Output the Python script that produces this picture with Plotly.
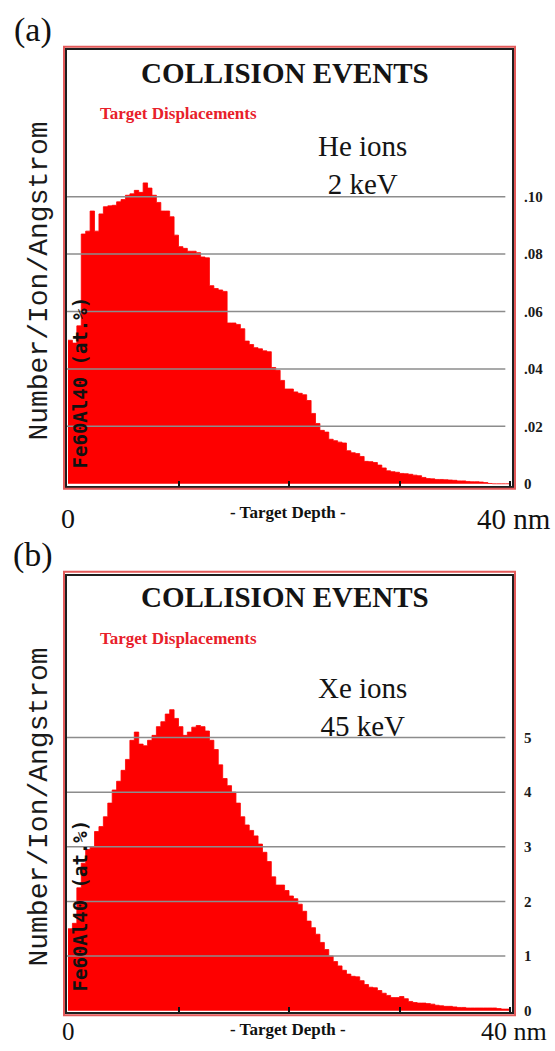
import plotly.graph_objects as go

W, H = 555, 1051

# ---------------- data ----------------
# depth bins (SRIM: 100 bins of 4 Angstrom over 0-40 nm), bin centres in nm
bin_width_nm = 0.4
depth_nm = [round(0.2 + bin_width_nm * i, 2) for i in range(100)]

# (a) He ions, 2 keV : target displacements (Number/Ion/Angstrom)
he_values = [
    0.050, 0.049, 0.055, 0.087, 0.088, 0.095, 0.088, 0.094, 0.0965, 0.0968,
    0.097, 0.0982, 0.099, 0.1005, 0.101, 0.1022, 0.1015, 0.1048, 0.103, 0.1005,
    0.098, 0.095, 0.095, 0.093, 0.0866, 0.0826, 0.082, 0.081, 0.081, 0.0805,
    0.079, 0.0787, 0.069, 0.068, 0.0675, 0.067, 0.056, 0.056, 0.0555, 0.054,
    0.0497, 0.0485, 0.0474, 0.047, 0.0463, 0.046, 0.0405, 0.0395, 0.036, 0.033,
    0.033, 0.032, 0.0315, 0.031, 0.029, 0.0245, 0.021, 0.0186, 0.018, 0.0155,
    0.015, 0.0145, 0.0142, 0.0115, 0.0108, 0.0105, 0.0095, 0.0078, 0.0077, 0.0074,
    0.0065, 0.0055, 0.0045, 0.0042, 0.004, 0.0036, 0.0035, 0.0033, 0.003, 0.0028,
    0.0022, 0.0018, 0.0017, 0.0015, 0.0015, 0.0014, 0.0013, 0.0012, 0.001, 0.001,
    0.0008, 0.0007, 0.0007, 0.0006, 0.0004, 0.0001, 0.0, 0.0, 0.0, 0.0,
]

# (b) Xe ions, 45 keV
xe_values = [
    1.50, 1.60, 2.25, 2.70, 2.95, 3.00, 3.28, 3.37, 3.55, 3.80,
    4.04, 4.20, 4.40, 4.60, 4.95, 5.10, 4.88, 4.85, 4.95, 5.04,
    5.20, 5.29, 5.43, 5.51, 5.35, 5.20, 5.04, 5.10, 5.19, 5.22,
    5.20, 5.12, 4.95, 4.78, 4.50, 4.25, 4.12, 4.00, 3.80, 3.55,
    3.40, 3.30, 3.20, 3.05, 2.90, 2.73, 2.45, 2.30, 2.30, 2.20,
    2.10, 2.05, 1.95, 1.82, 1.64, 1.52, 1.40, 1.25, 1.12, 1.00,
    0.90, 0.82, 0.74, 0.67, 0.63, 0.62, 0.55, 0.48, 0.43, 0.42,
    0.37, 0.32, 0.28, 0.24, 0.24, 0.26, 0.22, 0.17, 0.15, 0.14,
    0.14, 0.13, 0.12, 0.10, 0.09, 0.08, 0.08, 0.07, 0.06, 0.06,
    0.05, 0.05, 0.05, 0.05, 0.05, 0.05, 0.05, 0.04, 0.03, 0.03,
]

he_ticks = [0, 0.02, 0.04, 0.06, 0.08, 0.10]
he_ticktext = ["0", ".02", ".04", ".06", ".08", ".10"]
xe_ticks = [0, 1, 2, 3, 4, 5]
xe_ticktext = ["0", "1", "2", "3", "4", "5"]
depth_ticks = [0, 10, 20, 30, 40]

panel_labels = ["(a)", "(b)"]
ion_labels = ["He ions<br>2 keV", "Xe ions<br>45 keV"]
title_text = "COLLISION EVENTS"
subtitle_text = "Target Displacements"
ylabel_text = "Number/Ion/Angstrom"
target_text = "Fe60Al40 (at.%)"
xlabel_text = "- Target Depth -"

# ---------------- styling / layout ----------------
RED = "#fe0000"
FRAME_RED = "#e35a5a"
SERIF = "Liberation Serif, Times New Roman, serif"
MONO = "Liberation Mono, Courier New, monospace"
SANSMONO = "DejaVu Sans Mono, monospace"

def px(p):
    return p / W

def py(p):
    return 1 - p / H

# pixel geometry of the two panels
X_LEFT, X_RIGHT = 67, 512          # inner black frame
X0_PX, X40_PX = 68, 510            # 0 nm and 40 nm positions
nm_per_px = 40 / (X40_PX - X0_PX)
x_range = [(X_LEFT - X0_PX) * nm_per_px, (X_RIGHT - X0_PX) * nm_per_px]

# step-histogram outline: left edge of every bin + right edge of the last one
half = bin_width_nm / 2
step_x = [d - half for d in depth_nm] + [depth_nm[-1] + half]

panels = [
    dict(top=50.5, bottom=489, zero=487.0, unit_px=57.8, unit=0.02, off=0.0,
         ticks=he_ticks, ticktext=he_ticktext, values=he_values,
         red_top=47, red_bot=492, ion_y=166, ylab_y=283.5, tgt_y=385,
         bottom_lbl_y=522, bottom_lbl_size=28, depth_lbl_y=516, label_y=30),
    dict(top=579.5, bottom=1019, zero=1017.5, unit_px=55.0, unit=1.0, off=528.5,
         ticks=xe_ticks, ticktext=xe_ticktext, values=xe_values,
         red_top=575.5, red_bot=1022, ion_y=712, ylab_y=813, tgt_y=911.5,
         bottom_lbl_y=1038.5, bottom_lbl_size=25, depth_lbl_y=1036, label_y=559),
]

fig = go.Figure()
layout = dict(
    width=W, height=H,
    margin=dict(l=0, r=0, t=0, b=0),
    paper_bgcolor="white", plot_bgcolor="white",
    showlegend=False,
    shapes=[], annotations=[],
)

for i, p in enumerate(panels):
    sfx = "" if i == 0 else str(i + 1)
    xa, ya = "x" + sfx, "y" + sfx
    vals = p["values"]
    fig.add_trace(go.Scatter(
        x=step_x, y=vals + [vals[-1]],
        mode="lines", line=dict(color=RED, width=0.8, shape="hv"),
        fill="tozeroy", fillcolor=RED,
        xaxis=xa, yaxis=ya, hoverinfo="skip",
    ))
    y_lo = (p["zero"] - p["bottom"]) / p["unit_px"] * p["unit"]
    y_hi = (p["zero"] - p["top"]) / p["unit_px"] * p["unit"]
    layout["xaxis" + sfx] = dict(
        domain=[px(X_LEFT), px(X_RIGHT)], range=x_range, anchor=ya,
        showgrid=False, zeroline=False, showline=True, mirror=True,
        linecolor="#1e1e1e", linewidth=2,
        tickvals=depth_ticks, ticks="inside", ticklen=5, tickwidth=1.5,
        tickcolor="#111", showticklabels=False, fixedrange=True,
    )
    layout["yaxis" + sfx] = dict(
        domain=[py(p["bottom"]), py(p["top"])], range=[y_lo, y_hi], anchor=xa,
        side="right", showgrid=False, zeroline=False, showline=True, mirror=True,
        linecolor="#1e1e1e", linewidth=2,
        tickvals=p["ticks"], ticktext=p["ticktext"], ticks="",
        ticklabelstandoff=7,
        tickfont=dict(family=SERIF, size=15, color="#1a1a1a", weight="bold"),
        fixedrange=True,
    )
    # grid lines drawn over the histogram (as in the SRIM plot)
    for v in p["ticks"][1:]:
        layout["shapes"].append(dict(
            type="line", xref=xa + " domain", yref=ya,
            x0=0.0, x1=0.985, y0=v, y1=v, layer="above",
            line=dict(color="#8c8c8c", width=1.5),
        ))
    # outer red frame
    layout["shapes"].append(dict(
        type="rect", xref="paper", yref="paper",
        x0=px(64), x1=px(515), y0=py(p["red_bot"]), y1=py(p["red_top"]),
        line=dict(color=FRAME_RED, width=2), layer="above",
    ))
    off = p["off"]
    ann = layout["annotations"]
    ann.append(dict(text=panel_labels[i], x=px(33), y=py(p["label_y"]),
                    xref="paper", yref="paper", showarrow=False,
                    xanchor="center", yanchor="middle",
                    font=dict(family=SERIF, size=34, color="#111")))
    ann.append(dict(text=title_text, x=px(284.5), y=py(73 + off),
                    xref="paper", yref="paper", showarrow=False,
                    xanchor="center", yanchor="middle",
                    font=dict(family=SERIF, size=29, color="#141414", weight="bold")))
    ann.append(dict(text=subtitle_text, x=px(98), y=py(114 + off),
                    xref="paper", yref="paper", showarrow=False,
                    xanchor="left", yanchor="middle",
                    font=dict(family=SERIF, size=17, color="#e8202a", weight="bold")))
    ann.append(dict(text=ion_labels[i], x=px(362.5), y=py(p["ion_y"]),
                    xref="paper", yref="paper", showarrow=False,
                    xanchor="center", yanchor="middle",
                    font=dict(family=SERIF, size=29, color="#141414")))
    ann.append(dict(text=ylabel_text, x=px(40), y=py(p["ylab_y"]),
                    xref="paper", yref="paper", showarrow=False, textangle=-90,
                    xanchor="center", yanchor="middle",
                    font=dict(family=MONO, size=28, color="#1a1a1a")))
    ann.append(dict(text=target_text, x=px(80), y=py(p["tgt_y"]),
                    xref="paper", yref="paper", showarrow=False, textangle=-90,
                    xanchor="center", yanchor="middle",
                    font=dict(family=SANSMONO, size=19, color="#111", weight="bold")))
    ann.append(dict(text="0", x=px(68), y=py(p["bottom_lbl_y"]),
                    xref="paper", yref="paper", showarrow=False,
                    xanchor="center", yanchor="middle",
                    font=dict(family=SERIF, size=p["bottom_lbl_size"], color="#111")))
    ann.append(dict(text=xlabel_text, x=px(288), y=py(p["depth_lbl_y"]),
                    xref="paper", yref="paper", showarrow=False,
                    xanchor="center", yanchor="middle",
                    font=dict(family=SERIF, size=17, color="#111", weight="bold")))
    ann.append(dict(text="40 nm", x=px(514), y=py(p["bottom_lbl_y"]),
                    xref="paper", yref="paper", showarrow=False,
                    xanchor="center", yanchor="middle",
                    font=dict(family=SERIF, size=p["bottom_lbl_size"] + 1, color="#111")))

fig.update_layout(**layout)
fig.write_html("out.html")
